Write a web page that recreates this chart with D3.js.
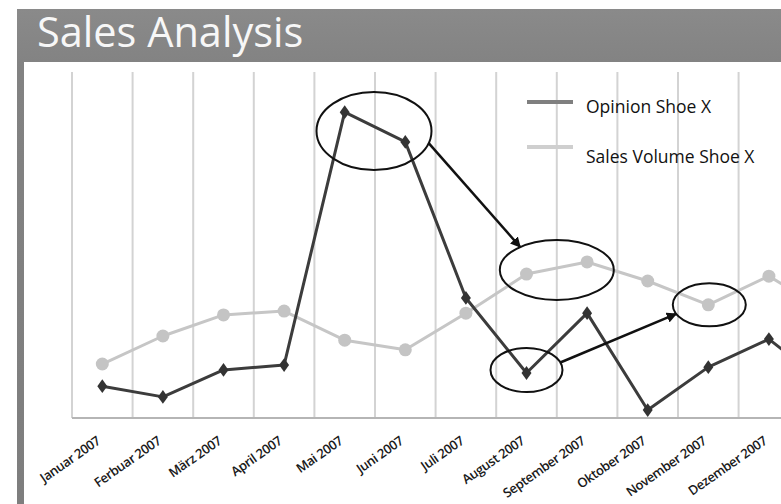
<!DOCTYPE html>
<html>
<head>
<meta charset="utf-8">
<script src="https://cdn.jsdelivr.net/npm/d3@7"></script>
<style>
  html, body { margin: 0; padding: 0; background: #ffffff; }
  svg { display: block; }
</style>
</head>
<body>
<script>
// Monthly categories; the series run one month past the last labelled month.
const categories = ["Januar 2007", "Ferbuar 2007", "März 2007", "April 2007", "Mai 2007", "Juni 2007",
  "Juli 2007", "August 2007", "September 2007", "Oktober 2007", "November 2007", "Dezember 2007", "Januar 2008"];
const tickLabels = categories.slice(0, 12);

// Index values (0–100)
const opinionShoeX = [9.2, 6.1, 13.9, 15.3, 88.4, 79.8, 34.7, 13.0, 30.3, 2.3, 14.7, 22.8, 9.0];
const salesVolumeShoeX = [15.6, 23.7, 29.8, 30.9, 22.5, 19.7, 30.3, 41.6, 45.1, 39.6, 32.7, 41.0, 30.3];

const W = 781, H = 504;
const plot = { left: 72, top: 72, bottom: 418, step: 60.6 };
const FONT = "'Open Sans', 'Noto Sans', sans-serif";

const svg = d3.select("body").append("svg")
  .attr("width", W).attr("height", H)
  .style("font-family", FONT);

// Slide frame: grey title band and left border
const defs = svg.append("defs");
const grad = defs.append("linearGradient").attr("id", "band").attr("x1", 0).attr("y1", 0).attr("x2", 0).attr("y2", 1);
grad.append("stop").attr("offset", "0%").attr("stop-color", "#8a8a8a");
grad.append("stop").attr("offset", "12%").attr("stop-color", "#828282");
grad.append("stop").attr("offset", "100%").attr("stop-color", "#7e7e7e");
svg.append("rect").attr("x", 17).attr("y", 9).attr("width", W - 17).attr("height", H - 9).attr("fill", "url(#band)");
svg.append("rect").attr("x", 24).attr("y", 62).attr("width", W - 24).attr("height", H - 62).attr("fill", "#ffffff");

svg.append("text")
  .attr("x", 37).attr("y", 47)
  .attr("fill", "#f7f7f7")
  .style("font-size", "41.5px")
  .text("Sales Analysis");

// Scales
const x = d3.scaleBand()
  .domain(categories)
  .range([plot.left, plot.left + plot.step * categories.length])
  .paddingInner(0).paddingOuter(0);
const y = d3.scaleLinear().domain([0, 100]).range([plot.bottom, plot.top]);
const cx = d => x(d) + x.bandwidth() / 2;

// Vertical gridlines at category boundaries
const gridX = categories.map(c => x(c)).concat([x.range()[1]]);
svg.append("g").selectAll("line").data(gridX).join("line")
  .attr("x1", d => d).attr("x2", d => d)
  .attr("y1", plot.top).attr("y2", plot.bottom)
  .attr("stroke", "#d3d3d3").attr("stroke-width", 2);

// Category axis
const axis = svg.append("g")
  .attr("transform", `translate(0,${plot.bottom})`)
  .call(d3.axisBottom(x).tickValues(tickLabels).tickSize(0))
  .attr("font-family", FONT);
axis.select(".domain").remove();
svg.append("line")
  .attr("x1", plot.left).attr("x2", W)
  .attr("y1", plot.bottom).attr("y2", plot.bottom)
  .attr("stroke", "#b5b5b5").attr("stroke-width", 2);
axis.selectAll("text")
  .attr("x", 0).attr("y", 0).attr("dy", null)
  .attr("transform", "translate(-1,25) rotate(-35)")
  .style("text-anchor", "end")
  .style("font-family", FONT)
  .style("font-size", "13px")
  .style("font-weight", 600)
  .style("letter-spacing", "-0.4px")
  .attr("fill", "#1a1a1a");

// Series lines
const line = vals => d3.line()
  .x((d, i) => cx(categories[i]))
  .y(d => y(d))(vals);

svg.append("path")
  .attr("d", line(salesVolumeShoeX))
  .attr("fill", "none").attr("stroke", "#c6c6c6").attr("stroke-width", 3)
  .attr("stroke-linejoin", "round");
svg.append("g").selectAll("circle").data(salesVolumeShoeX).join("circle")
  .attr("cx", (d, i) => cx(categories[i])).attr("cy", d => y(d))
  .attr("r", 6.5).attr("fill", "#c4c4c4");

svg.append("path")
  .attr("d", line(opinionShoeX))
  .attr("fill", "none").attr("stroke", "#3c3c3c").attr("stroke-width", 3)
  .attr("stroke-linejoin", "round");
svg.append("g").selectAll("path").data(opinionShoeX).join("path")
  .attr("transform", (d, i) => `translate(${cx(categories[i])},${y(d)}) scale(1.25,1)`)
  .attr("d", d3.symbol(d3.symbolDiamond, 55)())
  .attr("fill", "#333333");

// Annotations: ellipses around highlighted points, arrows between them
const pt = (series, i) => [cx(categories[i]), y(series[i])];
const mid = (a, b) => [(a[0] + b[0]) / 2, (a[1] + b[1]) / 2];
const shift = (p, dx, dy) => [p[0] + dx, p[1] + dy];
const rings = [
  { c: shift(mid(pt(opinionShoeX, 4), pt(opinionShoeX, 5)), -1, 4), rx: 57.5, ry: 39 },
  { c: shift(mid(pt(salesVolumeShoeX, 7), pt(salesVolumeShoeX, 8)), 0, 2), rx: 57, ry: 30 },
  { c: shift(pt(opinionShoeX, 7), 0, -3), rx: 36, ry: 22 },
  { c: shift(pt(salesVolumeShoeX, 10), 1, 0), rx: 36.5, ry: 21.5 }
];
svg.append("g").selectAll("ellipse").data(rings).join("ellipse")
  .attr("cx", d => d.c[0]).attr("cy", d => d.c[1])
  .attr("rx", d => d.rx).attr("ry", d => d.ry)
  .attr("fill", "none").attr("stroke", "#111111").attr("stroke-width", 2);

defs.append("marker")
  .attr("id", "head").attr("viewBox", "0 0 10 10")
  .attr("refX", 9).attr("refY", 5)
  .attr("markerWidth", 4.2).attr("markerHeight", 4.2)
  .attr("markerUnits", "strokeWidth")
  .attr("orient", "auto")
  .append("path").attr("d", "M0,0 L10,5 L0,10 Z").attr("fill", "#111111");

const onRing = (r, deg) => {
  const t = deg * Math.PI / 180;
  return [r.c[0] + r.rx * Math.cos(t), r.c[1] + r.ry * Math.sin(t)];
};
const arrows = [
  { from: onRing(rings[0], 18), to: onRing(rings[1], -130) },
  { from: onRing(rings[2], -20), to: onRing(rings[3], 155) }
];
svg.append("g").selectAll("line").data(arrows).join("line")
  .attr("x1", d => d.from[0]).attr("y1", d => d.from[1])
  .attr("x2", d => d.to[0]).attr("y2", d => d.to[1])
  .attr("stroke", "#111111").attr("stroke-width", 2.5)
  .attr("marker-end", "url(#head)");

// Legend
const legend = [
  { name: "Opinion Shoe X", color: "#7f7f7f", ly: 102, ty: 113 },
  { name: "Sales Volume Shoe X", color: "#cfcfcf", ly: 147, ty: 163 }
];
const lg = svg.append("g");
lg.selectAll("line").data(legend).join("line")
  .attr("x1", 527).attr("x2", 573)
  .attr("y1", d => d.ly).attr("y2", d => d.ly)
  .attr("stroke", d => d.color).attr("stroke-width", 4);
lg.selectAll("text").data(legend).join("text")
  .attr("x", 586).attr("y", d => d.ty)
  .attr("fill", "#111111")
  .style("font-size", "17.5px")
  .text(d => d.name);
</script>
</body>
</html>
